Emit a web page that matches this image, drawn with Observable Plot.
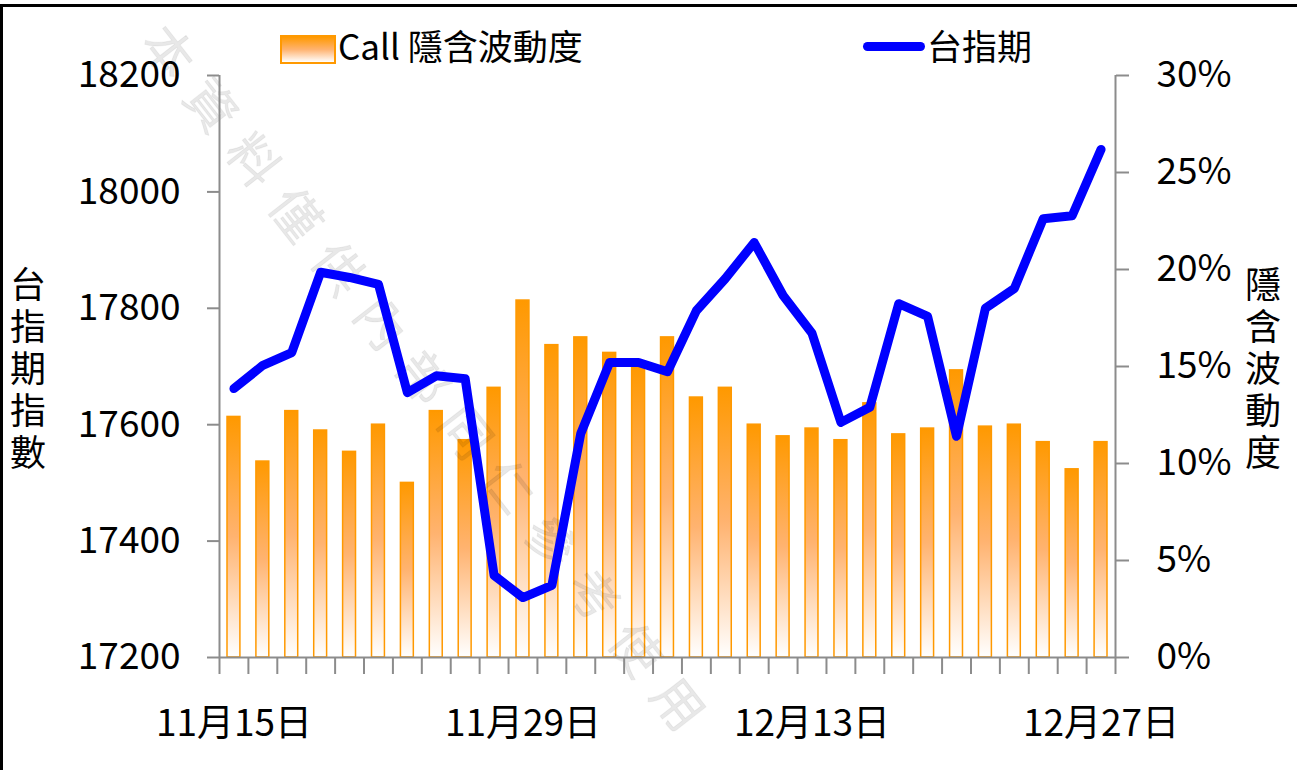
<!DOCTYPE html>
<html><head><meta charset="utf-8">
<script src="https://cdn.jsdelivr.net/npm/d3@7"></script>
<script src="https://cdn.jsdelivr.net/npm/@observablehq/plot@0.6"></script>
<style>
body{margin:0;background:#fff;}
#wrap{position:relative;width:1297px;height:770px;overflow:hidden;font-family:"Noto Sans CJK TC","Noto Sans CJK SC",sans-serif;color:#000;}
#frame{position:absolute;left:0;top:4px;width:1400px;height:900px;border-left:3px solid #000;border-top:3px solid #000;box-sizing:border-box;}
#chart{position:absolute;left:0;top:0;}
.leg{position:absolute;font-size:35px;line-height:1;white-space:nowrap;}
.sw{position:absolute;left:280px;top:35px;width:52px;height:25px;border:2px solid #FF9900;background:linear-gradient(#FF9900,#FFB370 50%,#FFFFFF);}
.ln{position:absolute;left:863px;top:42px;width:62px;height:9px;border-radius:5px;background:#0000FF;}
.vt{position:absolute;writing-mode:vertical-rl;text-orientation:upright;font-size:36px;letter-spacing:6px;line-height:1;}
</style>
</head><body>
<div id="wrap">
  <div id="frame"></div>
  <div id="chart"></div>
  <div class="sw"></div>
  <div class="leg" id="legIV" style="left:338px;top:27px;"></div>
  <div class="ln"></div>
  <div class="leg" id="legFut" style="left:927px;top:27px;"></div>
  <div class="vt" id="titleL" style="left:10px;top:266px;"></div>
  <div class="vt" id="titleR" style="left:1245px;top:266px;"></div>
</div>
<script>
// ---- data ----
const dates = ["11月15日","11月16日","11月17日","11月18日","11月19日","11月22日","11月23日","11月24日","11月25日","11月26日",
  "11月29日","11月30日","12月1日","12月2日","12月3日","12月6日","12月7日","12月8日","12月9日","12月10日",
  "12月13日","12月14日","12月15日","12月16日","12月17日","12月20日","12月21日","12月22日","12月23日","12月24日","12月27日"];
const futures = [17662,17702,17724,17862,17853,17841,17655,17684,17679,17341,
  17303,17324,17585,17707,17707,17691,17796,17851,17913,17822,
  17757,17604,17630,17808,17786,17580,17800,17834,17954,17959,18073];
const callIV = [12.4,10.1,12.7,11.7,10.6,12.0,9.0,12.7,11.2,13.9,
  18.4,16.1,16.5,15.7,15.0,16.5,13.4,13.9,12.0,11.4,
  11.8,11.2,13.1,11.5,11.8,14.8,11.9,12.0,11.1,9.7,11.1];
const leftTicks = [17200,17400,17600,17800,18000,18200];
const pctTicks = [0,5,10,15,20,25,30];
const labelIdx = [0,10,20,30];
const seriesNames = ["Call 隱含波動度","台指期"];
const axisTitles = ["台指期指數","隱含波動度"];
const watermark = "本資料僅供內部同仁參考使用";

// ---- build ----
document.getElementById("legIV").textContent = seriesNames[0];
document.getElementById("legFut").textContent = seriesNames[1];
document.getElementById("titleL").textContent = axisTitles[0];
document.getElementById("titleR").textContent = axisTitles[1];

const yMin = leftTicks[0], yMax = leftTicks[leftTicks.length-1];
const pMax = pctTicks[pctTicks.length-1];
const toY = p => yMin + p / pMax * (yMax - yMin);
const n = dates.length;
const rows = dates.map((d,i) => ({i, date:d, fut:futures[i], iv:callIV[i]}));
const bounds = d3.range(n + 1).map(k => k - 0.5);

const font = '"Noto Sans CJK TC","Noto Sans CJK SC",sans-serif';
const chart = Plot.plot({
  width:1297, height:770,
  marginLeft:219, marginRight:182, marginTop:75, marginBottom:113,
  x:{domain:[-0.5, n-0.5], axis:null},
  y:{domain:[yMin, yMax], axis:null},
  style:{fontFamily:font, fontSize:"37px", color:"#000", background:"transparent", overflow:"visible"},
  marks:[
    Plot.rectY(rows, {x1:d=>d.i-0.5, x2:d=>d.i+0.5, y1:yMin, y2:d=>toY(d.iv),
      insetLeft:8, insetRight:8, fill:"url(#ivGrad)", stroke:"#FF9900", strokeWidth:1.5}),
    Plot.text([watermark], {frameAnchor:"middle", dx:-240, dy:20, rotate:52, fontSize:50,
      fill:"#000", fillOpacity:0.09, stroke:"#000", strokeOpacity:0.05, strokeWidth:1, text:d=>d, fontFamily:font}),
    Plot.line(rows, {x:"i", y:"fut", stroke:"#0000FF", strokeWidth:9, strokeLinejoin:"round", strokeLinecap:"round"}),
    Plot.ruleX([-0.5, n-0.5], {stroke:"#8c8c8c", strokeWidth:2}),
    Plot.axisY({anchor:"left", ticks:leftTicks, tickSize:12, tickPadding:27, stroke:"#8c8c8c", strokeWidth:2,
      fill:"#000", fontSize:37, tickFormat:d=>String(d), label:null}),
    Plot.axisY({anchor:"right", ticks:pctTicks.map(toY), tickSize:13, tickPadding:28, stroke:"#8c8c8c", strokeWidth:2,
      fill:"#000", fontSize:37, tickFormat:v=>Math.round((v-yMin)/(yMax-yMin)*pMax)+"%", label:null}),
    Plot.axisX({anchor:"bottom", ticks:bounds, tickSize:17, stroke:"#8c8c8c", strokeWidth:2, tickFormat:()=>"", label:null}),
    Plot.axisX({anchor:"bottom", ticks:labelIdx, tickSize:0, tickPadding:52, fill:"#000", fontSize:37,
      tickFormat:i=>dates[i], label:null}),
    Plot.ruleY([yMin], {stroke:"#8c8c8c", strokeWidth:2})
  ]
});

const defs = d3.select(chart).insert("defs", ":first-child");
const grad = defs.append("linearGradient").attr("id","ivGrad").attr("x1",0).attr("y1",0).attr("x2",0).attr("y2",1);
grad.append("stop").attr("offset","0").attr("stop-color","#FF9900");
grad.append("stop").attr("offset","0.5").attr("stop-color","#FFB370");
grad.append("stop").attr("offset","1").attr("stop-color","#FFFFFF");

d3.select(chart).selectAll("text").filter(function(){ return this.textContent === watermark; })
  .attr("letter-spacing", "19px");

document.getElementById("chart").appendChild(chart);
</script>
</body></html>
